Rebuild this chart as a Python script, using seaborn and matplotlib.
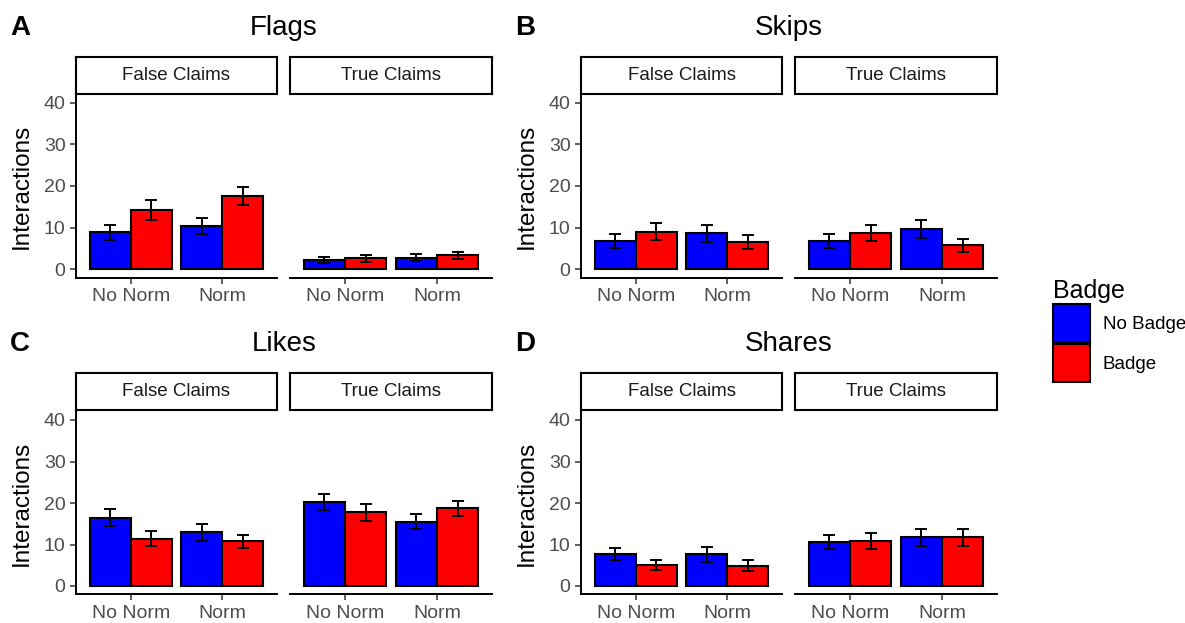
import pandas as pd
import matplotlib
matplotlib.use("Agg")
import matplotlib.pyplot as plt
from matplotlib.patches import Patch
import seaborn as sns

# categories
metrics = ["Flags", "Skips", "Likes", "Shares"]
panel_letters = ["A", "B", "C", "D"]
claims = ["False Claims", "True Claims"]
norms = ["No Norm", "Norm"]
badges = ["No Badge", "Badge"]

# values per claim type, order: (No Norm/No Badge, No Norm/Badge, Norm/No Badge, Norm/Badge)
flags_mean = [[8.9, 14.2, 10.4, 17.6], [2.2, 2.6, 2.8, 3.4]]
flags_se = [[1.8, 2.4, 2.0, 2.2], [0.8, 0.85, 0.85, 0.85]]
skips_mean = [[6.8, 9.0, 8.6, 6.5], [6.8, 8.7, 9.7, 5.8]]
skips_se = [[1.7, 2.0, 2.1, 1.7], [1.65, 1.9, 2.2, 1.55]]
likes_mean = [[16.4, 11.4, 12.9, 10.8], [20.2, 17.8, 15.5, 18.7]]
likes_se = [[2.05, 1.85, 1.95, 1.6], [2.0, 2.05, 1.85, 1.85]]
shares_mean = [[7.7, 5.1, 7.6, 4.9], [10.5, 10.8, 11.7, 11.7]]
shares_se = [[1.5, 1.25, 1.85, 1.25], [1.7, 1.95, 2.05, 2.05]]

means = {"Flags": flags_mean, "Skips": skips_mean, "Likes": likes_mean, "Shares": shares_mean}
ses = {"Flags": flags_se, "Skips": skips_se, "Likes": likes_se, "Shares": shares_se}

rows = []
for m in metrics:
    for ci, c in enumerate(claims):
        k = 0
        for n in norms:
            for b in badges:
                rows.append({"metric": m, "claim": c, "norm": n, "badge": b,
                             "mean": means[m][ci][k], "se": ses[m][ci][k]})
                k += 1
df = pd.DataFrame(rows)

sns.set_style("ticks")
plt.rcParams["font.family"] = ["Liberation Sans", "DejaVu Sans"]
plt.rcParams["text.color"] = "black"

W, H = 1185, 623
fig = plt.figure(figsize=(W / 100, H / 100), dpi=100)

def px_axes(x0, x1, ytop, ybot):
    return fig.add_axes([x0 / W, 1 - ybot / H, (x1 - x0) / W, (ybot - ytop) / H])

palette = {"No Badge": "#0000FF", "Badge": "#FF0000"}
grey = "#4D4D4D"

col_off = [0, 505]
row_geo = [  # title y, strip top, strip bottom, plot top (y=42), plot bottom (y=-2)
    (28, 57, 94, 94.4, 277.6),
    (344, 373, 410, 411.7, 594.3),
]
facet_x = [(76, 277), (290, 492)]

for i, m in enumerate(metrics):
    r, c = divmod(i, 2)
    ty, st, sb, pt, pb = row_geo[r]
    ox = col_off[c]
    for j, cl in enumerate(claims):
        x0, x1 = facet_x[j][0] + ox, facet_x[j][1] + ox
        ax = px_axes(x0, x1, pt, pb)
        sub = df[(df.metric == m) & (df.claim == cl)]
        sns.barplot(data=sub, x="norm", y="mean", hue="badge", order=norms,
                    hue_order=badges, palette=palette, saturation=1, errorbar=None,
                    edgecolor="black", linewidth=1.5, width=0.9, gap=0,
                    legend=False, ax=ax)
        for b, cont in zip(badges, ax.containers):
            sb_ = sub[sub.badge == b].set_index("norm").loc[norms]
            xs = [p.get_x() + p.get_width() / 2 for p in cont]
            hs = [p.get_height() for p in cont]
            ax.errorbar(xs, hs, yerr=sb_["se"].values, fmt="none",
                        ecolor="black", elinewidth=1.4, capsize=4.5, capthick=1.4)
        ax.set_xlim(-0.6, 1.6)
        ax.set_ylim(-2, 42)
        ax.set_yticks([0, 10, 20, 30, 40])
        ax.set_xlabel("")
        ax.tick_params(axis="both", labelsize=14, labelcolor=grey, color="#333333",
                       length=4, width=1.1)
        for s in ["top", "right"]:
            ax.spines[s].set_visible(False)
        ax.spines["bottom"].set_linewidth(1.4)
        ax.spines["left"].set_linewidth(1.4)
        ax.spines["bottom"].set_color("black")
        ax.spines["left"].set_color("black")
        if j == 0:
            ax.set_ylabel("Interactions", fontsize=17.5, color="black", labelpad=8)
        else:
            ax.set_ylabel("")
            ax.spines["left"].set_visible(False)
            ax.tick_params(axis="y", left=False, labelleft=False)
        # strip
        sax = px_axes(x0, x1, st, sb)
        sax.set_xticks([])
        sax.set_yticks([])
        for s in sax.spines.values():
            s.set_visible(True)
            s.set_linewidth(1.5)
            s.set_color("black")
        sax.text(0.5, 0.5, cl, ha="center", va="center", fontsize=13.5,
                 color="#1A1A1A", transform=sax.transAxes)
    # title and panel letter
    fig.text((ox + 284) / W, 1 - ty / H, m, ha="center", va="center", fontsize=20,
             color="black")
    fig.text((ox + 10) / W, 1 - ty / H, panel_letters[i], ha="left", va="center",
             fontsize=20, fontweight="bold", color="black")

handles = [Patch(facecolor=palette[b], edgecolor="black", linewidth=1.5) for b in badges]
leg = fig.legend(handles, badges, title="Badge", loc="upper left",
                 bbox_to_anchor=(1040 / W, 1 - 266 / H), frameon=False,
                 fontsize=13.5, title_fontsize=18, handlelength=1.95, handleheight=2.8,
                 labelspacing=0.05, handletextpad=0.7, borderpad=0.2,
                 alignment="left", labelcolor="black")

fig.savefig("out.png", dpi=100)
